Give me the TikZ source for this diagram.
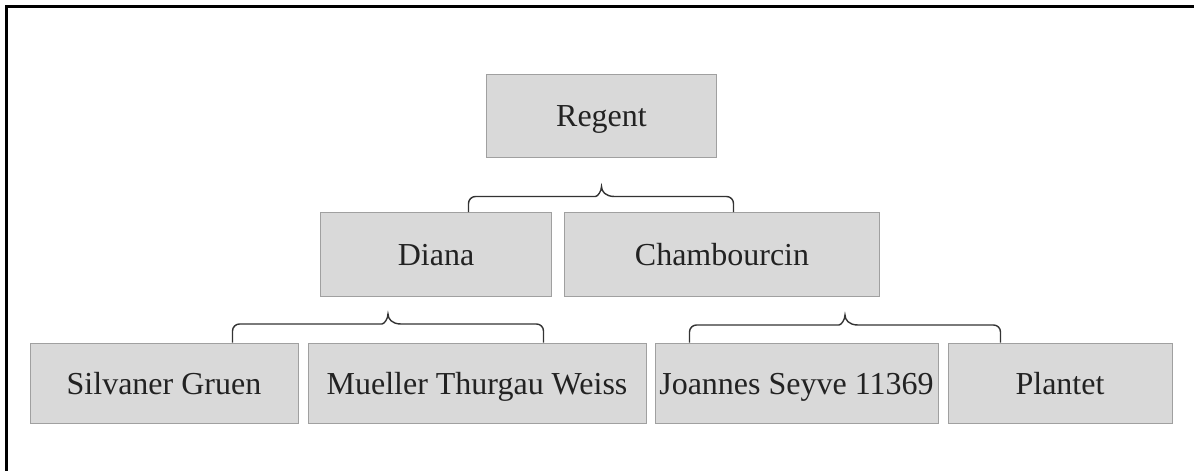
\documentclass[tikz,border=0pt]{standalone}
\usepackage{fontspec}
\setmainfont{Liberation Serif}
\usetikzlibrary{calc}
\definecolor{boxfill}{HTML}{D9D9D9}
\definecolor{boxline}{HTML}{A0A0A0}
\definecolor{txt}{HTML}{222222}
\definecolor{brc}{HTML}{333333}
\tikzset{
  vbox/.style={draw=boxline, line width=1pt, fill=boxfill, text=txt,
    font=\fontsize{32}{38}\selectfont, inner sep=0pt, anchor=center,
    text height=22pt, text depth=0pt},
  bracepath/.style={draw=brc, line width=1.4pt},
}
\begin{document}
\begin{tikzpicture}[x=1pt,y=-1pt]
\useasboundingbox (0,0) rectangle (1194,471);
\fill[white] (0,0) rectangle (1194,471);
\draw[line width=3pt, black] (6.5,471) -- (6.5,6.5) -- (1194,6.5);

\node[vbox, minimum width=230pt, minimum height=83pt] (regent) at (601.5,115.5) {Regent};
\node[vbox, minimum width=231pt, minimum height=84pt] (diana) at (436,254.5) {Diana};
\node[vbox, minimum width=315pt, minimum height=84pt] (chamb) at (722,254.5) {Chambourcin};
\node[vbox, minimum width=268pt, minimum height=80pt] (silv) at (164,383) {Silvaner Gruen};
\node[vbox, minimum width=338pt, minimum height=80pt] (muel) at (477,383) {Mueller Thurgau Weiss};
\node[vbox, minimum width=283pt, minimum height=80pt] (joan) at (796.5,383) {Joannes Seyve 11369};
\node[vbox, minimum width=224pt, minimum height=80pt] (plant) at (1060,383) {Plantet};

% brace 1: Regent -> Diana, Chambourcin
\coordinate (b1l) at ($(diana.north west)+(148.5,0)$);
\coordinate (b1r) at ($(chamb.north west)+(169.5,0)$);
\coordinate (b1t) at ($(regent.south)+(0,29)$);
% brace 2: Diana -> Silvaner, Mueller
\coordinate (b2l) at ($(silv.north west)+(203,0)$);
\coordinate (b2r) at ($(muel.north west)+(236,0)$);
\coordinate (b2t) at ($(diana.south)+(-48,17)$);
% brace 3: Chambourcin -> Joannes, Plantet
\coordinate (b3l) at ($(joan.north west)+(35,0)$);
\coordinate (b3r) at ($(plant.north west)+(53,0)$);
\coordinate (b3t) at ($(chamb.south)+(123,18)$);

\foreach \b in {1,2,3}{
  \draw[bracepath] (b\b l) [rounded corners=7pt] |- ($(b\b t)+(-13,10)$) [sharp corners]
    .. controls ($(b\b t)+(-4,10)$) and ($(b\b t)+(0,5)$) .. (b\b t)
    .. controls ($(b\b t)+(0,5)$) and ($(b\b t)+(4,10)$) .. ($(b\b t)+(13,10)$)
    [rounded corners=7pt] -| (b\b r);
}
\end{tikzpicture}
\end{document}
